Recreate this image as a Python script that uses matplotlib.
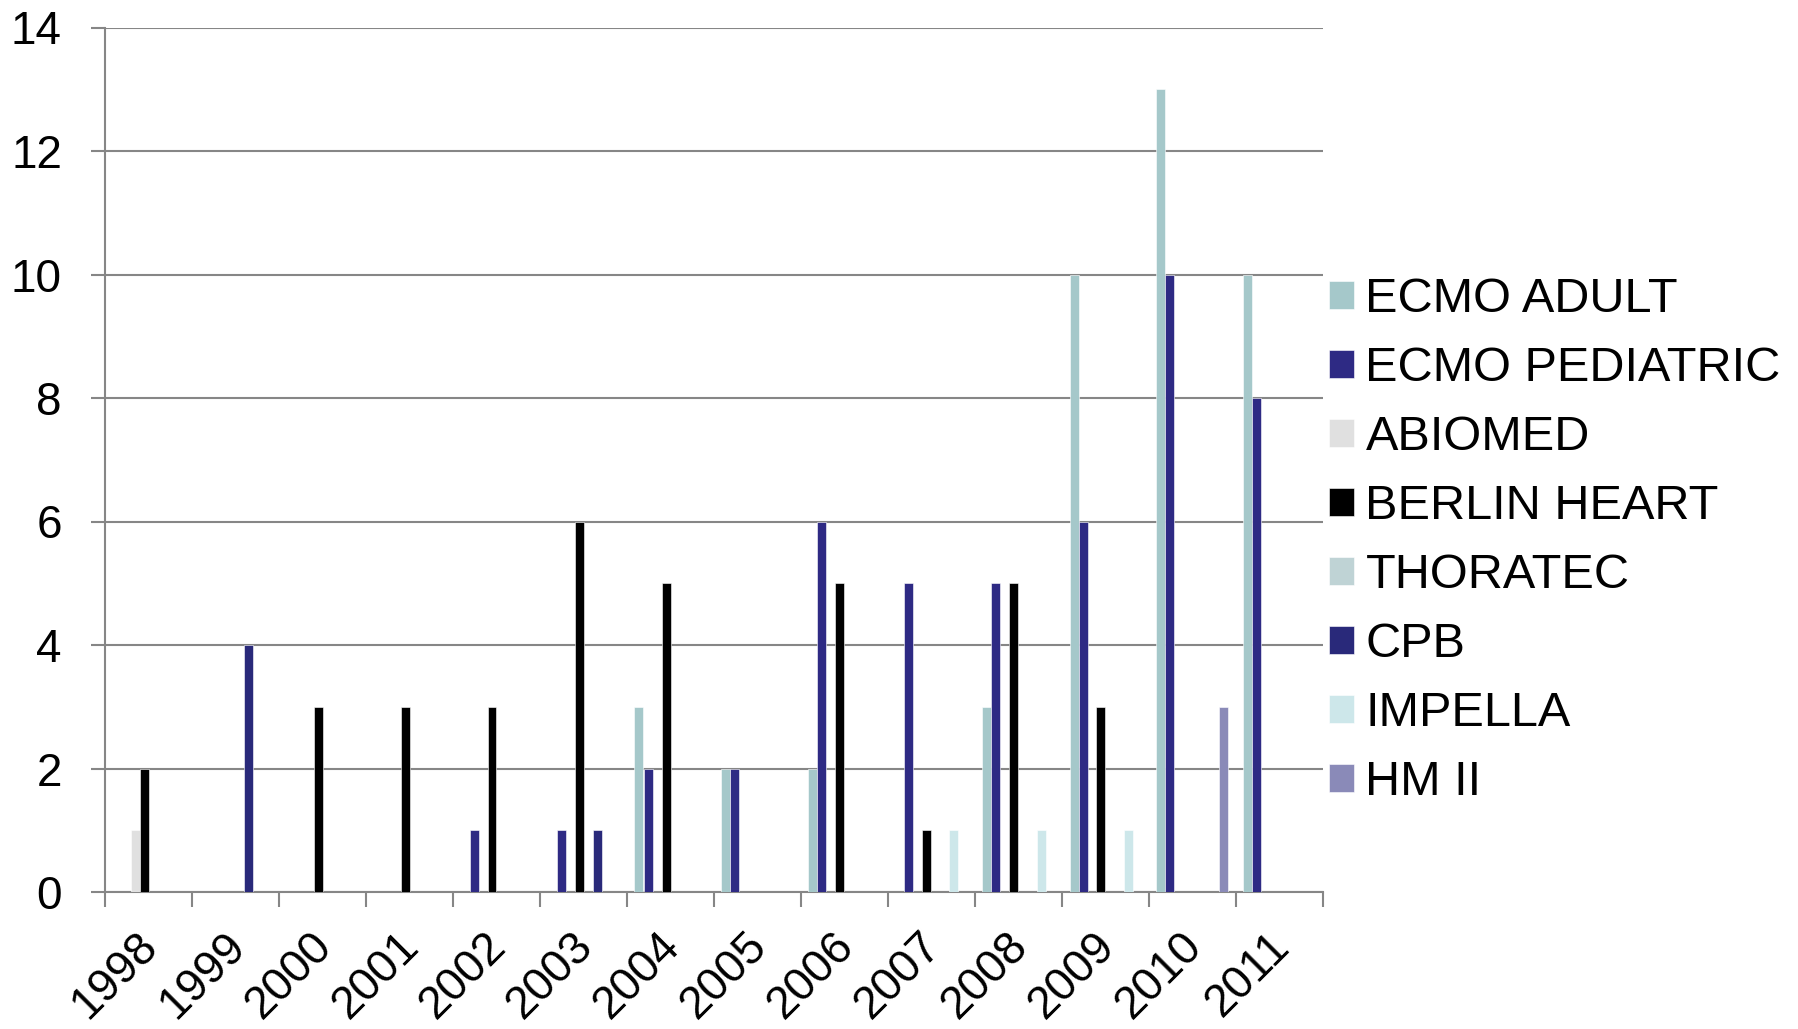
import numpy as np
import matplotlib.pyplot as plt
import matplotlib.transforms as mtransforms

plt.rcParams['font.family'] = ['Liberation Sans', 'DejaVu Sans']

years = ['1998', '1999', '2000', '2001', '2002', '2003', '2004',
         '2005', '2006', '2007', '2008', '2009', '2010', '2011']

ecmo_adult = [0, 0, 0, 0, 0, 0, 3, 2, 2, 0, 3, 10, 13, 10]
ecmo_pediatric = [0, 0, 0, 0, 1, 1, 2, 2, 6, 5, 5, 6, 10, 8]
abiomed = [1, 0, 0, 0, 0, 0, 0, 0, 0, 0, 0, 0, 0, 0]
berlin_heart = [2, 0, 3, 3, 3, 6, 5, 0, 5, 1, 5, 3, 0, 0]
thoratec = [0, 0, 0, 0, 0, 0, 0, 0, 0, 0, 0, 0, 0, 0]
cpb = [0, 4, 0, 0, 0, 1, 0, 0, 0, 0, 0, 0, 0, 0]
impella = [0, 0, 0, 0, 0, 0, 0, 0, 0, 1, 1, 1, 0, 0]
hm_ii = [0, 0, 0, 0, 0, 0, 0, 0, 0, 0, 0, 0, 3, 0]

series = [
    ('ECMO ADULT', ecmo_adult, '#a5c8ca'),
    ('ECMO PEDIATRIC', ecmo_pediatric, '#2e2a84'),
    ('ABIOMED', abiomed, '#e0e0e0'),
    ('BERLIN HEART', berlin_heart, '#000000'),
    ('THORATEC', thoratec, '#bfd3d5'),
    ('CPB', cpb, '#29297a'),
    ('IMPELLA', impella, '#cde7ea'),
    ('HM II', hm_ii, '#8a8ab8'),
]

fig = plt.figure(figsize=(17.98, 10.29), dpi=100)
ax = fig.add_axes([105 / 1798, 1 - 892 / 1029, 1218 / 1798, 864.5 / 1029])

grid_col = '#868686'
n = len(series)
w = 1 / (n + 15 / 9)          # bar width, gap of ~1.67 bars per group
gap = (1 - n * w) / 2
x = np.arange(len(years))

handles = []
for j, (name, vals, col) in enumerate(series):
    b = ax.bar(x + gap + w * j + w / 2, vals, width=w, color=col,
               edgecolor='white', linewidth=0.4, label=name, zorder=3)
    handles.append(b)

ax.set_xlim(0, len(years))
ax.set_ylim(0, 14)
ax.set_yticks(range(0, 15, 2))
ax.yaxis.grid(True, color=grid_col, linewidth=1.5, zorder=0)
ax.set_axisbelow(True)

for s in ['top', 'right']:
    ax.spines[s].set_visible(False)
for s in ['left', 'bottom']:
    ax.spines[s].set_color(grid_col)
    ax.spines[s].set_linewidth(1.5)

ax.tick_params(axis='y', which='major', direction='out', length=10, width=1.5,
               color=grid_col, labelsize=33, pad=21)

# category labels at group centres, tick marks on group boundaries
ax.set_xticks(x + 0.5)
ax.set_xticklabels(years, rotation=45, ha='right', fontsize=33)
ax.set_xticks(np.arange(len(years) + 1), minor=True)
ax.tick_params(axis='x', which='major', length=0, pad=23)
ax.tick_params(axis='x', which='minor', direction='out', length=11, width=1.5,
               color=grid_col)
shift = mtransforms.ScaledTranslation(0.185, 0, fig.dpi_scale_trans)
for lbl in ax.get_xticklabels():
    lbl.set_transform(lbl.get_transform() + shift)

ax.legend(handles=handles, loc='center left',
          bbox_to_anchor=(1329 / 1798, 1 - 541 / 1029),
          bbox_transform=fig.transFigure, frameon=False, fontsize=35,
          handlelength=0.51, handleheight=0.51, handletextpad=0.24,
          labelspacing=0.495, borderpad=0, borderaxespad=0)

fig.savefig('out.png', dpi=100)
